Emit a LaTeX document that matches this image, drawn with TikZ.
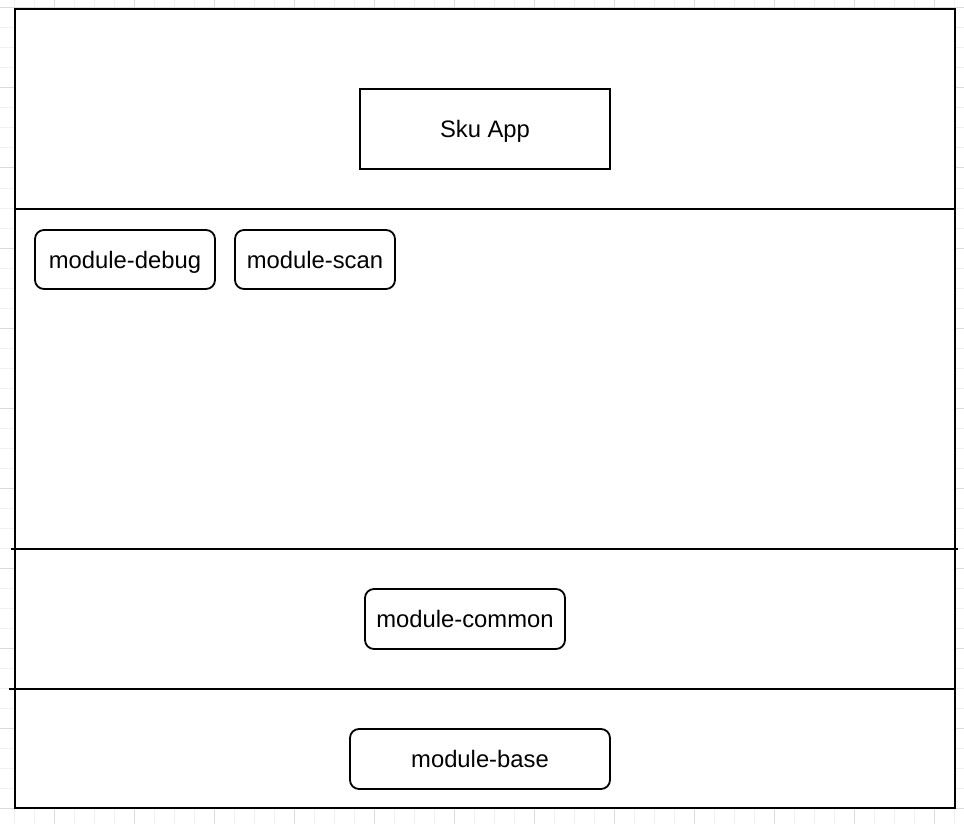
\documentclass[tikz,border=0pt]{standalone}
\usepackage{fontspec}
\setmainfont{Liberation Sans}
\begin{document}
\begin{tikzpicture}[x=1pt,y=-1pt,
  gridminor/.style={draw=black!6,line width=1pt},
  gridmajor/.style={draw=black!14,line width=1pt},
  layerline/.style={draw=black,line width=2pt},
  appbox/.style={draw=black,line width=1.8pt,fill=white,inner sep=0pt,
    text height=22pt,text depth=5pt,
    font=\fontsize{23.8}{28}\selectfont},
  modbox/.style={appbox,rounded corners=9pt}]
\useasboundingbox (0,0) rectangle (964,824);
% background grid
\foreach \gx in {14,34,...,954} \draw[gridminor] (\gx,0) -- (\gx,824);
\foreach \gy in {8,28,...,824} \draw[gridminor] (0,\gy) -- (964,\gy);
\foreach \gx in {54,134,...,954} \draw[gridmajor] (\gx,0) -- (\gx,824);
\foreach \gy in {8,88,...,824} \draw[gridmajor] (0,\gy) -- (964,\gy);
% outer frame
\node[draw=black,line width=2pt,fill=white,minimum width=940pt,minimum height=799pt,inner sep=0pt] (frame) at (485,408.5) {};
% layer separators
\coordinate (s1a) at (15,209);  \coordinate (s1b) at (955,209);
\coordinate (s2a) at (11,549);  \coordinate (s2b) at (958,549);
\coordinate (s3a) at (9,689);   \coordinate (s3b) at (955,689);
\draw[layerline] (s1a) -- (s1b);
\draw[layerline] (s2a) -- (s2b);
\draw[layerline] (s3a) -- (s3b);
% modules
\node[appbox,minimum width=250pt,minimum height=80pt] (app) at (485,129) {Sku App};
\node[modbox,minimum width=180pt,minimum height=59pt] (debug) at (125,259.5) {module-debug};
\node[modbox,minimum width=160pt,minimum height=59pt] (scan) at (315,259.5) {module-scan};
\node[modbox,minimum width=200pt,minimum height=60pt] (common) at (465,619) {module-common};
\node[modbox,minimum width=260pt,minimum height=60pt] (base) at (480,759) {module-base};
\end{tikzpicture}
\end{document}
